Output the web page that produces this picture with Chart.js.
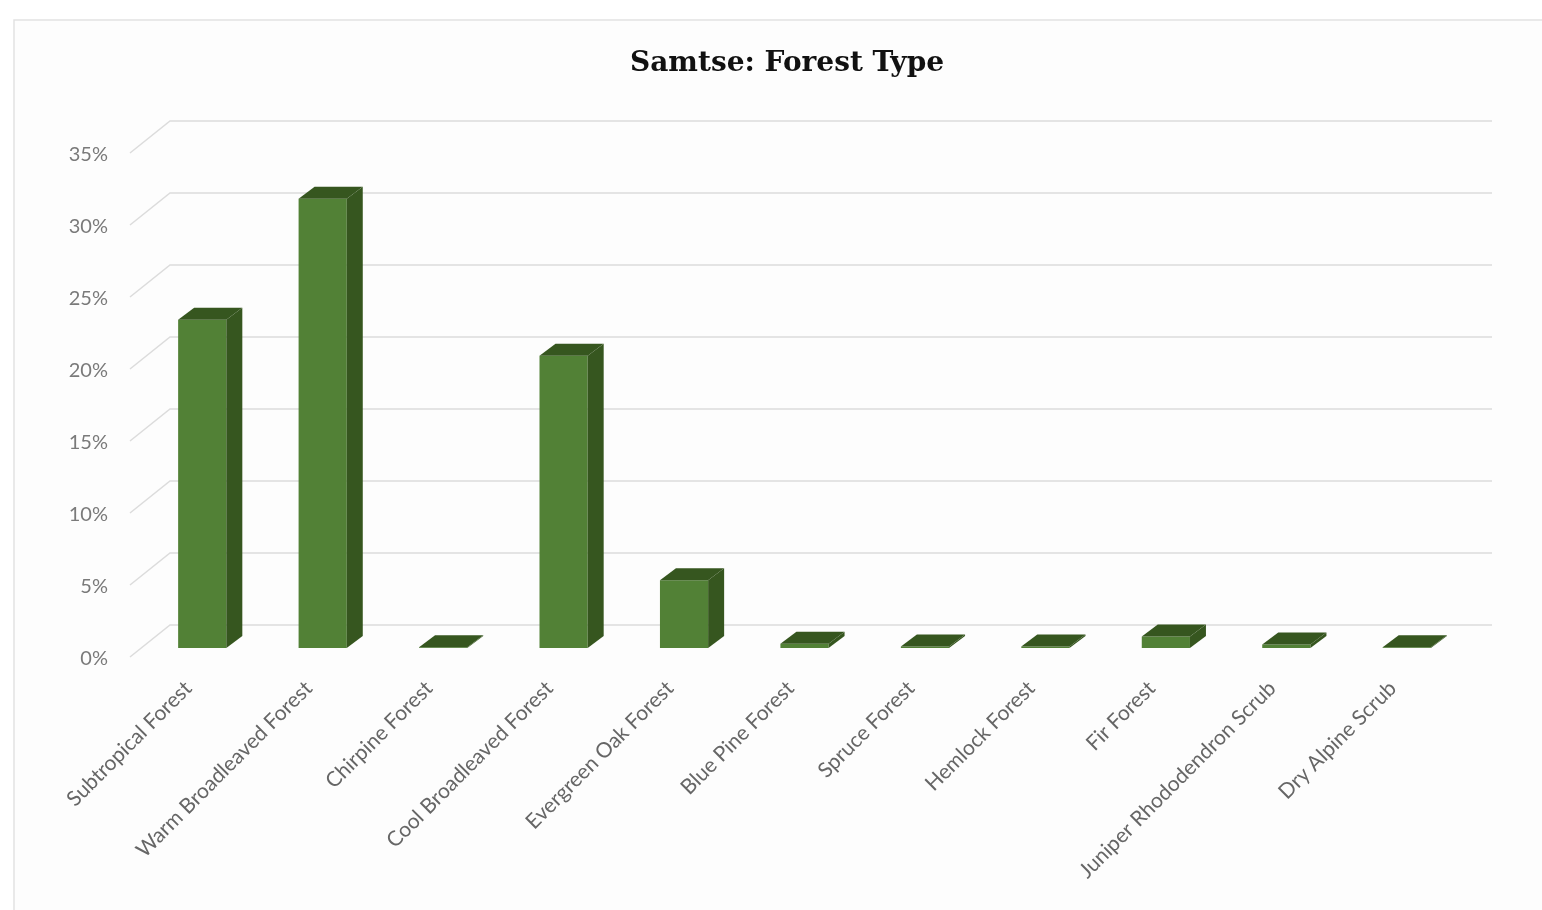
<!DOCTYPE html>
<html lang="en">

<head>
    <meta charset="utf-8" />
    <title>Samtse: Forest Type</title>
    <script src="https://cdn.jsdelivr.net/npm/chart.js@4/dist/chart.umd.min.js"></script>
    <style>
        html, body { margin: 0; padding: 0; background: #fff; }
        #wrap { width: 1542px; height: 910px; position: relative; }
    </style>
</head>

<body>
    <div id="wrap"><canvas id="forest"></canvas></div>

    <script>
        // forest types (percent of forest area)
        var categories = [
            'Subtropical Forest', 'Warm Broadleaved Forest', 'Chirpine Forest',
            'Cool Broadleaved Forest', 'Evergreen Oak Forest', 'Blue Pine Forest',
            'Spruce Forest', 'Hemlock Forest', 'Fir Forest',
            'Juniper Rhododendron Scrub', 'Dry Alpine Scrub'
        ];
        var shares = [22.8, 31.2, 0.05, 20.3, 4.7, 0.3, 0.1, 0.1, 0.8, 0.25, 0.05];
        var yTicks = [0, 5, 10, 15, 20, 25, 30, 35];

        var front = '#528136', side = '#36561f', top = '#3f6a28';
        var gridColor = '#dcdcdc';

        // depth of the bars
        var BAR_DX = 16, BAR_DY = -12;

        var frame = {
            id: 'frame',
            beforeDraw: function (chart) {
                var ctx = chart.ctx;
                ctx.save();
                ctx.fillStyle = '#fdfdfd';
                ctx.strokeStyle = '#e2e2e2';
                ctx.lineWidth = 1.5;
                ctx.fillRect(14, 20, 1540, 900);
                ctx.strokeRect(14, 20, 1540, 900);
                ctx.restore();
            }
        };

        // back wall gridlines with the diagonal lead-in from the front plane
        var wall = {
            id: 'wall',
            beforeDatasetsDraw: function (chart) {
                var ctx = chart.ctx, y = chart.scales.y, area = chart.chartArea;
                ctx.save();
                ctx.strokeStyle = gridColor;
                ctx.lineWidth = 1.5;
                yTicks.forEach(function (v) {
                    var py = y.getPixelForValue(v);
                    ctx.beginPath();
                    ctx.moveTo(area.left - 12, py + 9);
                    ctx.lineTo(area.left + 28, py - 23);
                    ctx.lineTo(area.right + 25, py - 23);
                    ctx.stroke();
                });
                ctx.restore();
            }
        };

        // side and top faces for each bar
        var bar3d = {
            id: 'bar3d',
            afterDatasetsDraw: function (chart) {
                var ctx = chart.ctx;
                chart.getDatasetMeta(0).data.forEach(function (b) {
                    var l = b.x - b.width / 2, r = b.x + b.width / 2;
                    ctx.save();
                    ctx.fillStyle = side;
                    ctx.beginPath();
                    ctx.moveTo(r, b.y);
                    ctx.lineTo(r + BAR_DX, b.y + BAR_DY);
                    ctx.lineTo(r + BAR_DX, b.base + BAR_DY);
                    ctx.lineTo(r, b.base);
                    ctx.closePath();
                    ctx.fill();
                    ctx.fillStyle = top;
                    ctx.beginPath();
                    ctx.moveTo(l, b.y);
                    ctx.lineTo(l + BAR_DX, b.y + BAR_DY);
                    ctx.lineTo(r + BAR_DX, b.y + BAR_DY);
                    ctx.lineTo(r, b.y);
                    ctx.closePath();
                    ctx.fill();
                    ctx.restore();
                });
            }
        };

        new Chart(document.getElementById('forest'), {
            type: 'bar',
            data: {
                labels: categories,
                datasets: [{
                    data: shares,
                    backgroundColor: front,
                    borderWidth: 0,
                    barPercentage: 0.5,
                    categoryPercentage: 0.8
                }]
            },
            options: {
                responsive: true,
                maintainAspectRatio: false,
                animation: false,
                layout: { padding: { left: 32, right: 0, top: 0, bottom: 0 } },
                plugins: {
                    legend: { display: false },
                    tooltip: { enabled: false },
                    title: {
                        display: true,
                        text: 'Samtse: Forest Type',
                        color: '#111',
                        font: { family: 'DejaVu Serif', size: 28, weight: 'bold' },
                        padding: { top: 47, bottom: 63.4 }
                    }
                },
                scales: {
                    x: {
                        grid: { display: false, drawTicks: false },
                        border: { display: false },
                        ticks: {
                            color: '#666',
                            font: { family: 'Lato', size: 21 },
                            minRotation: 45,
                            maxRotation: 45,
                            padding: 28,
                            labelOffset: -14
                        },
                        afterFit: function (s) { s.height = 262; }
                    },
                    y: {
                        min: 0,
                        max: 35,
                        grid: { display: false, drawTicks: false },
                        border: { display: false },
                        ticks: {
                            stepSize: 5,
                            color: '#7a7a7a',
                            font: { family: 'Lato', size: 20 },
                            padding: 34,
                            labelOffset: 11,
                            callback: function (v) { return v + '%'; }
                        },
                        afterFit: function (s) { s.width = 110; }
                    },
                    // empty right-hand box, keeps the plot clear of the right edge
                    pad: {
                        position: 'right',
                        display: true,
                        grid: { display: false, drawTicks: false },
                        border: { display: false },
                        ticks: { display: false },
                        afterFit: function (s) { s.width = 75; }
                    }
                }
            },
            plugins: [frame, wall, bar3d]
        });
    </script>
</body>

</html>
